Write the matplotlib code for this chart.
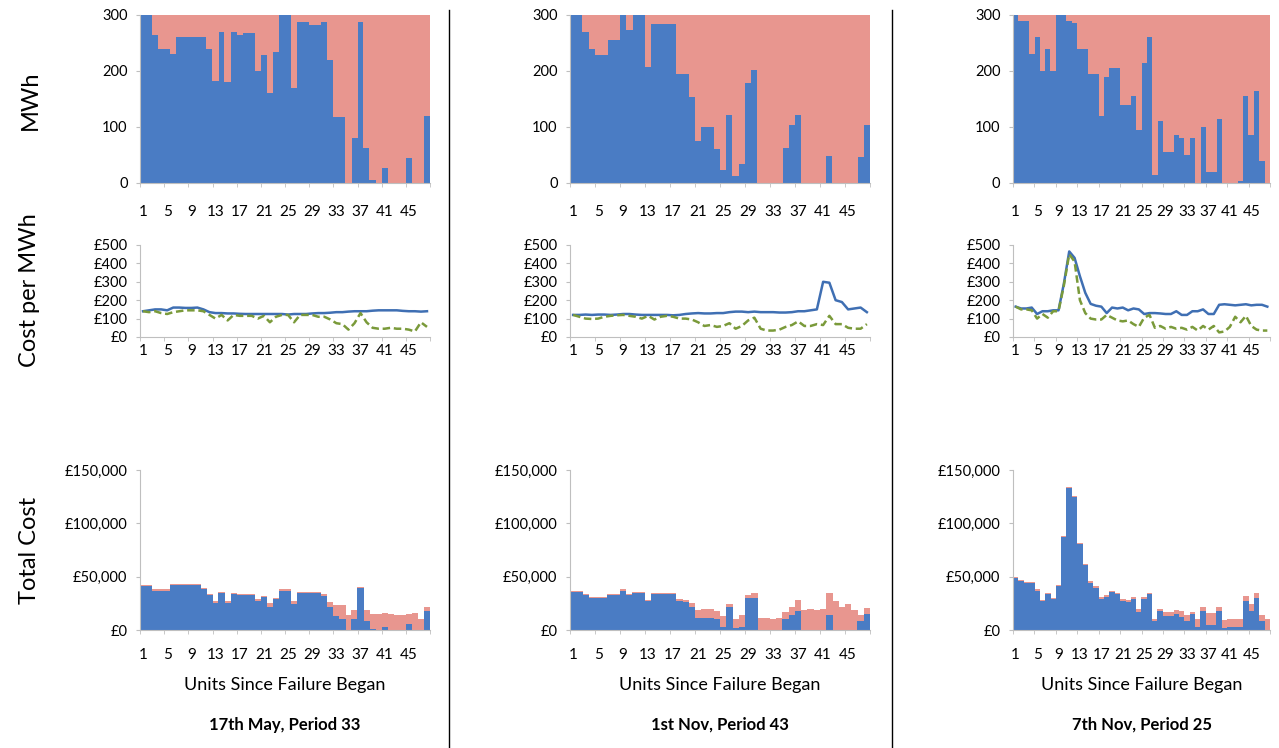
import numpy as np
import matplotlib
matplotlib.use('Agg')
from matplotlib import pyplot as plt
from matplotlib.ticker import FuncFormatter, FixedLocator

plt.rcParams['font.family'] = ['Lato', 'DejaVu Sans']

units = np.arange(1, 49)
titles = ['17th May, Period 33', '1st Nov, Period 43', '7th Nov, Period 25']

# MWh delivered (blue) out of 300
mwh_may = [300, 300, 265, 240, 240, 230, 260, 260, 260, 260, 260, 240, 182, 270, 180, 270,
           264, 267, 267, 200, 228, 161, 234, 300, 300, 169, 287, 287, 282, 282, 287, 220,
           118, 118, 0, 81, 287, 63, 6, 0, 26, 0, 0, 0, 45, 0, 0, 120]
mwh_nov1 = [300, 300, 269, 240, 228, 228, 256, 256, 300, 274, 300, 300, 208, 284, 284, 284,
            284, 195, 195, 153, 75, 100, 100, 60, 24, 121, 12, 34, 179, 202, 0, 0,
            0, 0, 62, 104, 121, 0, 0, 0, 0, 48, 0, 0, 0, 0, 47, 103]
mwh_nov7 = [300, 290, 290, 230, 260, 200, 240, 200, 300, 300, 290, 285, 240, 240, 195, 195,
            120, 190, 205, 205, 140, 140, 155, 95, 215, 260, 15, 110, 55, 55, 85, 80,
            50, 80, 0, 100, 20, 20, 115, 0, 0, 0, 3, 155, 85, 165, 40, 0]

# cost per MWh: solid blue and dashed green
cost_may = [140, 145, 150, 150, 145, 160, 160, 158, 158, 160, 150, 135, 130, 130, 128, 128,
            126, 125, 125, 125, 125, 125, 125, 125, 122, 125, 125, 125, 128, 130, 130, 132,
            135, 135, 138, 140, 140, 140, 143, 145, 145, 145, 145, 142, 140, 140, 138, 140]
marg_may = [140, 135, 140, 130, 125, 135, 140, 145, 145, 145, 140, 120, 100, 120, 90, 120,
            115, 115, 115, 100, 115, 80, 110, 120, 120, 80, 120, 120, 120, 110, 110, 95,
            75, 70, 40, 75, 130, 80, 50, 45, 45, 50, 45, 45, 40, 30, 80, 55]
cost_nov1 = [120, 120, 122, 120, 122, 122, 120, 122, 125, 125, 122, 120, 120, 120, 120, 120,
             118, 120, 125, 128, 130, 128, 128, 130, 130, 135, 138, 138, 135, 138, 135, 135,
             135, 133, 133, 135, 140, 140, 145, 150, 300, 295, 200, 190, 150, 155, 160, 135]
marg_nov1 = [120, 110, 100, 98, 100, 110, 115, 118, 120, 115, 110, 100, 115, 95, 110, 115,
             110, 100, 100, 95, 80, 60, 65, 55, 60, 75, 45, 60, 90, 105, 45, 35,
             35, 40, 55, 65, 85, 60, 60, 70, 65, 115, 70, 70, 50, 45, 45, 70]
cost_nov7 = [165, 155, 155, 160, 125, 140, 140, 145, 145, 290, 465, 430, 330, 240, 180, 170,
             165, 130, 160, 155, 160, 145, 155, 150, 125, 130, 130, 128, 125, 125, 140, 120,
             120, 140, 140, 150, 125, 125, 175, 178, 175, 172, 175, 178, 172, 175, 175, 165]
marg_nov7 = [165, 150, 150, 145, 100, 125, 105, 140, 140, 280, 450, 410, 200, 130, 100, 95,
             95, 120, 105, 90, 85, 90, 70, 55, 105, 120, 50, 60, 45, 55, 45, 50,
             40, 55, 35, 60, 40, 60, 25, 30, 55, 110, 80, 115, 60, 40, 35, 35]

# total cost in thousands: blue part and overall height
tc_blue_may = [41, 41, 37, 37, 37, 42, 42, 42, 42, 42, 38, 33, 25, 35, 25, 34,
               33, 33, 33, 27, 31, 22, 29, 37, 37, 24, 35, 35, 35, 35, 32, 22,
               13, 10, 0, 10, 39, 8, 1, 0, 3, 0, 0, 0, 6, 0, 0, 18]
tc_all_may = [42, 42, 38, 38, 38, 43, 43, 43, 43, 43, 39, 34, 27, 36, 27, 35,
              34, 34, 34, 29, 32, 25, 30, 38, 38, 27, 36, 36, 36, 36, 34, 26,
              23, 23, 14, 19, 40, 19, 15, 15, 16, 15, 14, 14, 15, 16, 10, 22]
tc_blue_nov1 = [36, 36, 33, 30, 30, 30, 33, 33, 37, 33, 35, 35, 27, 34, 34, 34,
                34, 27, 26, 22, 11, 11, 11, 10, 3, 22, 2, 3, 30, 30, 0, 0,
                0, 0, 10, 14, 18, 0, 0, 0, 0, 14, 0, 0, 0, 0, 8, 15]
tc_all_nov1 = [37, 37, 34, 31, 31, 31, 34, 34, 38, 34, 36, 36, 28, 35, 35, 35,
               35, 29, 28, 25, 19, 20, 20, 18, 13, 24, 10, 14, 33, 35, 11, 11,
               10, 11, 17, 22, 28, 19, 20, 19, 20, 35, 27, 22, 24, 19, 14, 21]
tc_blue_nov7 = [49, 46, 44, 44, 37, 27, 34, 29, 41, 87, 133, 125, 81, 61, 44, 39,
                29, 31, 36, 34, 27, 26, 29, 17, 29, 34, 8, 18, 13, 13, 15, 12,
                8, 15, 3, 18, 5, 5, 18, 2, 3, 3, 3, 27, 18, 30, 8, 0]
tc_all_nov7 = [50, 47, 45, 45, 38, 28, 35, 30, 42, 88, 134, 126, 82, 62, 46, 41,
               31, 33, 37, 35, 29, 28, 31, 20, 31, 35, 10, 20, 17, 17, 19, 18,
               14, 17, 10, 22, 16, 16, 22, 9, 10, 10, 10, 32, 24, 35, 14, 10]

mwh = [mwh_may, mwh_nov1, mwh_nov7]
cost = [cost_may, cost_nov1, cost_nov7]
marg = [marg_may, marg_nov1, marg_nov7]
tc_blue = [tc_blue_may, tc_blue_nov1, tc_blue_nov7]
tc_all = [tc_all_may, tc_all_nov1, tc_all_nov7]

BLUE = '#4a7cc4'
PINK = '#e8968f'
LINE_BLUE = '#3f6fb3'
GREEN = '#7a9a3a'
SPINE = '#bfbfbf'

W, H = 1279, 748
fig = plt.figure(figsize=(W / 100, H / 100), dpi=100)

cols = [(140, 430), (570, 870), (1013, 1270)]
rows = [(15, 183), (245, 337), (470, 630)]
xpads = [16, 5, 13]


def make_ax(c, r):
    x0, x1 = cols[c]
    y0, y1 = rows[r]
    return fig.add_axes([x0 / W, 1 - y1 / H, (x1 - x0) / W, (y1 - y0) / H])


def style_x(ax, pad):
    ax.set_xlim(0.5, 48.5)
    ax.xaxis.set_major_locator(FixedLocator(np.arange(1, 46, 4)))
    ax.xaxis.set_minor_locator(FixedLocator(np.arange(0.5, 49, 4)))
    ax.tick_params(axis='x', which='major', length=0, pad=pad, labelsize=11)
    ax.tick_params(axis='x', which='minor', length=3, color=SPINE)
    for s in ['top', 'right']:
        ax.spines[s].set_visible(False)
    for s in ['left', 'bottom']:
        ax.spines[s].set_color(SPINE)
    ax.tick_params(axis='y', length=3, color=SPINE, labelsize=10.5, pad=6)


for c in range(3):
    # MWh
    ax = make_ax(c, 0)
    blue = np.array(mwh[c])
    ax.bar(units, blue, width=1.04, color=BLUE, linewidth=0)
    ax.bar(units, 300 - blue, bottom=blue, width=1.04, color=PINK, linewidth=0)
    ax.set_ylim(0, 300)
    ax.set_yticks([0, 100, 200, 300])
    style_x(ax, xpads[0])

    # cost per MWh
    ax = make_ax(c, 1)
    ax.plot(units, cost[c], color=LINE_BLUE, lw=1.8)
    ax.plot(units, marg[c], color=GREEN, lw=1.8, ls=(0, (3, 1.5)))
    ax.set_ylim(0, 500)
    ax.set_yticks(np.arange(0, 501, 100))
    ax.yaxis.set_major_formatter(FuncFormatter(lambda v, p: '£%d' % v))
    style_x(ax, xpads[1])

    # total cost
    ax = make_ax(c, 2)
    tb = np.array(tc_blue[c]) * 1000
    ta = np.array(tc_all[c]) * 1000
    ax.bar(units, ta, width=1.04, color=PINK, linewidth=0)
    ax.bar(units, tb, width=1.04, color=BLUE, linewidth=0)
    ax.set_ylim(0, 150000)
    ax.set_yticks([0, 50000, 100000, 150000])
    ax.yaxis.set_major_formatter(FuncFormatter(lambda v, p: '£{:,.0f}'.format(v)))
    style_x(ax, xpads[2])

    xc = (cols[c][0] + cols[c][1]) / 2 / W
    fig.text(xc, 1 - 685 / H, 'Units Since Failure Began', ha='center', va='center', fontsize=13)
    fig.text(xc, 1 - 725 / H, titles[c], ha='center', va='center', fontsize=12, fontweight='bold')

for xd in [449, 892]:
    fig.add_artist(plt.Line2D([xd / W, xd / W], [0, 1 - 10 / H], color='black', lw=1))

fig.text(30 / W, 1 - 100 / H, 'MWh', rotation=90, ha='center', va='center', fontsize=17)
fig.text(30 / W, 1 - 290 / H, 'Cost per MWh', rotation=90, ha='center', va='center', fontsize=17)
fig.text(30 / W, 1 - 550 / H, 'Total Cost', rotation=90, ha='center', va='center', fontsize=17)

fig.savefig('out.png', dpi=100)
